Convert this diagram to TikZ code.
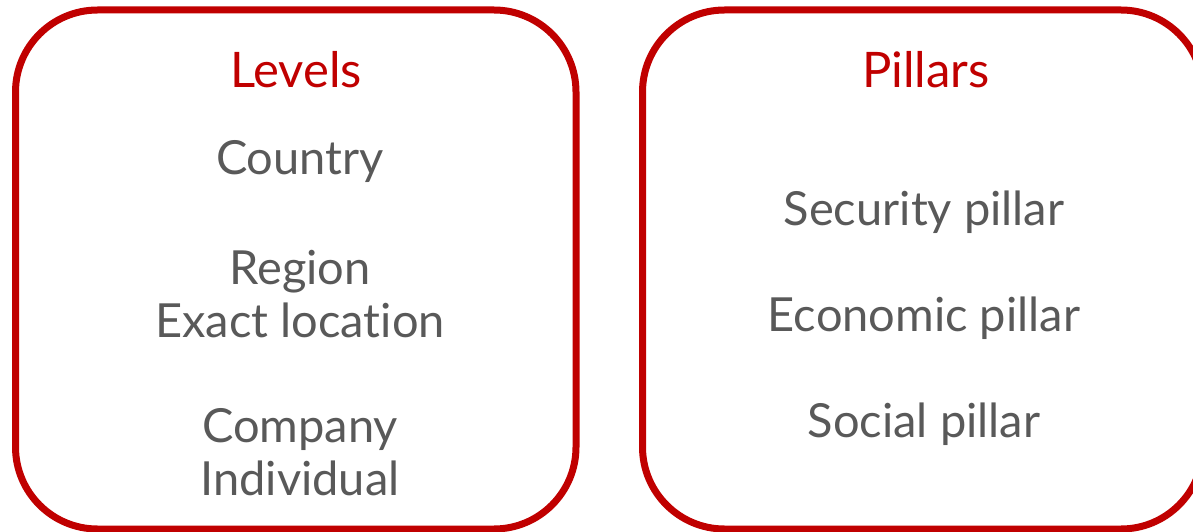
\documentclass[tikz,border=0pt]{standalone}
\usepackage{fontspec}
\setmainfont{Lato}[Ligatures=NoCommon]
\usepackage{tikz}

\definecolor{boxred}{RGB}{192,0,0}
\definecolor{itemgray}{RGB}{89,89,89}

\tikzset{
	groupbox/.style={draw=boxred, line width=7pt, rounded corners=82pt},
	grouptitle/.style={text=boxred, font=\fontsize{49}{53}\selectfont, align=center, inner sep=0pt},
	groupitems/.style={text=itemgray, font=\fontsize{47}{53}\selectfont, align=center, inner sep=0pt}
}

\begin{document}
\begin{tikzpicture}[x=1pt, y=-1pt]
	
	\useasboundingbox (0,0) rectangle (1193,532);
	\clip (0,0) rectangle (1193,532);
	
	% the two boxes
	\draw[groupbox] (15.5,10) rectangle (576,529);
	\draw[groupbox] (642.5,10) rectangle (1203,529);
	
	% left box
	\node[grouptitle] (levels) at (296,70) {Levels};
	\node[groupitems] (country) at (300,162) {Country};
	\node[groupitems] (region) at (300,294) {Region\\Exact location};
	\node[groupitems] (company) at (300,452) {Company\\Individual};
	
	% right box
	\node[grouptitle] (pillars) at (926,70) {Pillars};
	\node[groupitems] (security) at (924,212) {Security pillar};
	\node[groupitems] (economic) at (924,318) {Economic pillar};
	\node[groupitems] (social) at (924,424) {Social pillar};
	
\end{tikzpicture}
\end{document}
